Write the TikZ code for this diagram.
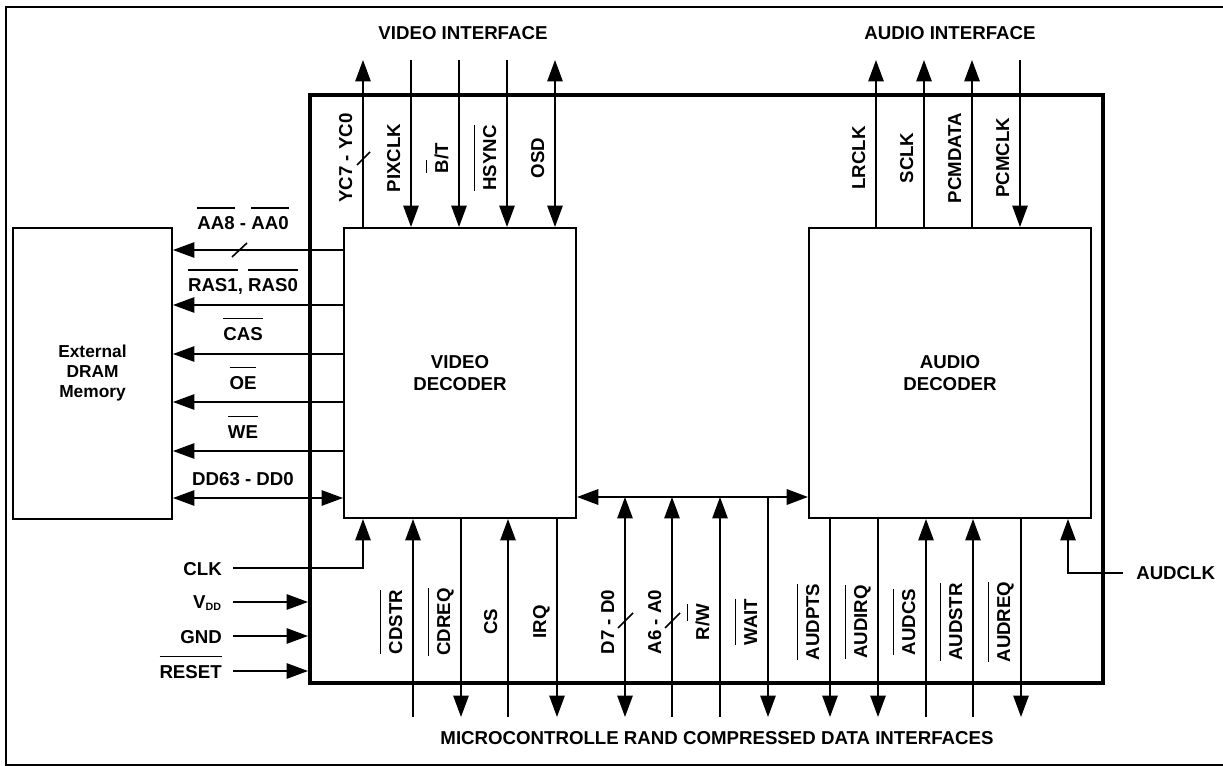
\documentclass[tikz,border=0pt]{standalone}
\usepackage{fontspec}
\setmainfont{Liberation Sans}
\usetikzlibrary{arrows.meta}
\newcommand{\ovl}[1]{\vbox{\hrule height 1.1pt\kern 6pt\hbox{#1}}}
\tikzset{
  CP/.style={draw,line width=3pt,rectangle,minimum width=594.75pt,minimum height=441pt,inner sep=0pt},
  BX/.style={draw,line width=1.5pt,rectangle,minimum height=217.5pt,align=center,inner sep=0pt},
  SG/.style={line width=1.2pt,>={Triangle[length=16pt,width=11.5pt]}},
  BS/.style={line width=1.8pt,>={Triangle[length=16pt,width=11.5pt]}},
  VL/.style={rotate=90,anchor=base,inner sep=0pt},
  HL/.style={anchor=base,inner sep=0pt},
}

\begin{document}
\begin{tikzpicture}[x=0.75pt,y=-0.75pt,font=\bfseries\fontsize{14}{16.5}\selectfont]
\useasboundingbox (0,0) rectangle (1223,766);

% frame and chip
\draw[line width=2pt] (1223,7) -- (6,7) -- (6,765) -- (1223,765);
\node[CP](chip) at (706.5,389){};

% blocks
\node[BX,minimum width=174pt](vdec) at (460,373){VIDEO\\DECODER};
\node[BX,minimum width=211.5pt](adec) at (950,373){AUDIO\\DECODER};
\node[BX,minimum width=119.25pt,minimum height=218pt,font=\bfseries\fontsize{13}{15}\selectfont](dram) at (92.5,373.5){External\\DRAM\\Memory};

% interface titles
\node[inner sep=0pt](vtitle) at (463,33){VIDEO INTERFACE};
\node[inner sep=0pt](atitle) at (950,33){AUDIO INTERFACE};
\node[inner sep=0pt](btitle) at (717,738){MICROCONTROLLE RAND COMPRESSED DATA INTERFACES};

% video interface (top)
\coordinate (tYC)  at (363,60);
\coordinate (tPIX) at (411,60);
\coordinate (tBT)  at (459,60);
\coordinate (tHS)  at (507,60);
\coordinate (tOSD) at (555,60);
\draw[SG,->](vdec.north -| tYC)--(tYC);
\draw[SG,->](tPIX)--(vdec.north -| tPIX);
\draw[SG,->](tBT)--(vdec.north -| tBT);
\draw[SG,->](tHS)--(vdec.north -| tHS);
\draw[SG,<->](vdec.north -| tOSD)--(tOSD);
\draw[SG](357,165)--(370,152);
\node[VL](nYC)  at (352,158){YC7 - YC0};
\node[VL](nPIX) at (400,158){PIXCLK};
\node[VL](nBT)  at (448,158){\ovl{B}/T};
\node[VL](nHS)  at (496,158){\ovl{HSYNC}};
\node[VL](nOSD) at (544,158){OSD};

% audio interface (top)
\coordinate (tLR)   at (876,60);
\coordinate (tSCLK) at (924,60);
\coordinate (tPCMD) at (972,60);
\coordinate (tPCMC) at (1020,60);
\draw[SG,->](adec.north -| tLR)--(tLR);
\draw[SG,->](adec.north -| tSCLK)--(tSCLK);
\draw[SG,->](adec.north -| tPCMD)--(tPCMD);
\draw[SG,->](tPCMC)--(adec.north -| tPCMC);
\node[VL](nLR)   at (865,158){LRCLK};
\node[VL](nSCLK) at (913,158){SCLK};
\node[VL](nPCMD) at (961,158){PCMDATA};
\node[VL](nPCMC) at (1009,158){PCMCLK};

% DRAM interface (left)
\coordinate (lAA)  at (243,250);
\coordinate (lRAS) at (243,305);
\coordinate (lCAS) at (243,354);
\coordinate (lOE)  at (243,402);
\coordinate (lWE)  at (243,451);
\coordinate (lDD)  at (243,498);
\draw[SG,->](vdec.west |- lAA)--(dram.east |- lAA);
\draw[SG,->](vdec.west |- lRAS)--(dram.east |- lRAS);
\draw[SG,->](vdec.west |- lCAS)--(dram.east |- lCAS);
\draw[SG,->](vdec.west |- lOE)--(dram.east |- lOE);
\draw[SG,->](vdec.west |- lWE)--(dram.east |- lWE);
\draw[SG,<->](vdec.west |- lDD)--(dram.east |- lDD);
\draw[SG](232,257)--(247,243);
\node[HL](nAA)  at (243,230){\ovl{AA8} - \ovl{AA0}};
\node[HL](nRAS) at (243,292){\ovl{RAS1}, \ovl{RAS0}};
\node[HL](nCAS) at (243,340){\ovl{CAS}};
\node[HL](nOE)  at (243,389){\ovl{OE}};
\node[HL](nWE)  at (243,438){\ovl{WE}};
\node[HL](nDD)  at (243,485){DD63 - DD0};

% clock and power (left)
\node[inner sep=0pt,anchor=base east](nCLK)   at (222,575){CLK};
\node[inner sep=0pt,anchor=base east](nVDD)   at (222,608){V\textsubscript{\fontsize{8}{8}\selectfont DD}};
\node[inner sep=0pt,anchor=base east](nGND)   at (222,643){GND};
\node[inner sep=0pt,anchor=base east](nRESET) at (222,678){\ovl{RESET}};
\coordinate (cCLK)   at (233,568);
\coordinate (kCLK)   at (363,568);
\coordinate (cVDD)   at (233,602);
\coordinate (cGND)   at (233,636);
\coordinate (cRESET) at (233,671);
\draw[SG,->](cCLK)--(kCLK)--(vdec.south -| kCLK);
\draw[SG,->](cVDD)--(chip.west |- cVDD);
\draw[SG,->](cGND)--(chip.west |- cGND);
\draw[SG,->](cRESET)--(chip.west |- cRESET);

% host bus
\coordinate (bus) at (692,497);
\draw[BS,<->](vdec.east |- bus)--(adec.west |- bus);

% microcontroller and compressed data (bottom)
\coordinate (bCDSTR) at (413,717);
\coordinate (bCDREQ) at (461,717);
\coordinate (bCS)    at (508,717);
\coordinate (bIRQ)   at (557,717);
\coordinate (bD)     at (625,717);
\coordinate (bA)     at (672,717);
\coordinate (bRW)    at (720,717);
\coordinate (bWAIT)  at (768,717);
\draw[SG,->](bCDSTR)--(vdec.south -| bCDSTR);
\draw[SG,->](vdec.south -| bCDREQ)--(bCDREQ);
\draw[SG,->](bCS)--(vdec.south -| bCS);
\draw[SG,->](vdec.south -| bIRQ)--(bIRQ);
\draw[SG,<->](bus -| bD)--(bD);
\draw[SG,->](bA)--(bus -| bA);
\draw[SG,->](bRW)--(bus -| bRW);
\draw[SG,->](bus -| bWAIT)--(bWAIT);
\draw[SG](618,628)--(633,613);
\draw[SG](665,628)--(680,613);
\node[VL](nCDSTR) at (402,622){\ovl{CDSTR}};
\node[VL](nCDREQ) at (450,622){\ovl{CDREQ}};
\node[VL](nCS)    at (497,622){CS};
\node[VL](nIRQ)   at (546,622){IRQ};
\node[VL](nD)     at (614,622){D7 - D0};
\node[VL](nA)     at (661,622){A6 - A0};
\node[VL](nRW)    at (709,622){R/\ovl{W}};
\node[VL](nWAIT)  at (757,622){\ovl{WAIT}};

\coordinate (bAPTS) at (830,717);
\coordinate (bAIRQ) at (878,717);
\coordinate (bACS)  at (926,717);
\coordinate (bASTR) at (973,717);
\coordinate (bAREQ) at (1021,717);
\draw[SG,->](adec.south -| bAPTS)--(bAPTS);
\draw[SG,->](adec.south -| bAIRQ)--(bAIRQ);
\draw[SG,->](bACS)--(adec.south -| bACS);
\draw[SG,->](bASTR)--(adec.south -| bASTR);
\draw[SG,->](adec.south -| bAREQ)--(bAREQ);
\node[VL](nAPTS) at (819,622){\ovl{AUDPTS}};
\node[VL](nAIRQ) at (867,622){\ovl{AUDIRQ}};
\node[VL](nACS)  at (915,622){\ovl{AUDCS}};
\node[VL](nASTR) at (962,622){\ovl{AUDSTR}};
\node[VL](nAREQ) at (1010,622){\ovl{AUDREQ}};

% audio clock (right)
\node[inner sep=0pt,anchor=base west](nAUDCLK) at (1136,579){AUDCLK};
\coordinate (cAUD) at (1123,573);
\coordinate (kAUD) at (1068,573);
\draw[SG,->](cAUD)--(kAUD)--(adec.south -| kAUD);

\end{tikzpicture}
\end{document}
